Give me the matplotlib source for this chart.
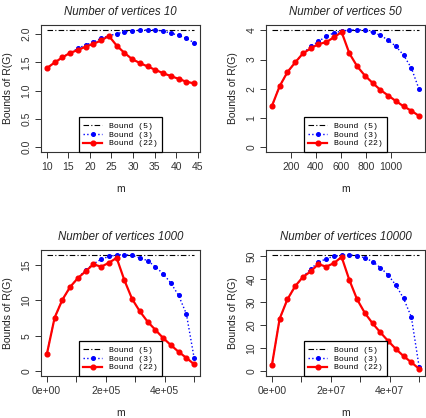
import matplotlib
matplotlib.use("Agg")
import matplotlib.pyplot as plt

plt.rcParams['font.family'] = ['Liberation Sans', 'DejaVu Sans']

# panel titles
titles = ["Number of vertices 10", "Number of vertices 50",
          "Number of vertices 1000", "Number of vertices 10000"]

# m values
m_10 = [10.0, 11.8, 13.6, 15.4, 17.2, 19.0, 20.8, 22.6, 24.4, 26.2,
        28.0, 29.8, 31.6, 33.4, 35.2, 37.0, 38.8, 40.6, 42.4, 44.2]
m_50 = [49, 111, 173, 235, 297, 359, 421, 482, 544, 606,
        668, 730, 792, 854, 916, 978, 1040, 1101, 1163, 1225]
m_1000 = [999, 27236, 53473, 79710, 105947, 132184, 158421, 184658, 210895, 237132,
          263368, 289605, 315842, 342079, 368316, 394553, 420790, 447027, 473264, 499500]
m_10000 = [9999, 2640262, 5270525, 7900788, 10531051, 13161314, 15791577, 18421840,
           21052103, 23682366, 26312633, 28942896, 31573159, 34203422, 36833685,
           39463948, 42094211, 44724474, 47354737, 49995000]

# Bound (5): constant line
b5_10, b5_50, b5_1000, b5_10000 = 2.08, 4.02, 16.45, 50.6

# Bound (3)
b3_10 = [1.40, 1.50, 1.59, 1.67, 1.75, 1.81, 1.86, 1.93, 1.97, 2.01,
         2.04, 2.06, 2.07, 2.075, 2.075, 2.055, 2.02, 1.98, 1.925, 1.85]
b3_50 = [1.41, 2.09, 2.57, 2.90, 3.21, 3.45, 3.62, 3.79, 3.91, 3.97,
         4.01, 4.02, 4.00, 3.93, 3.83, 3.66, 3.45, 3.15, 2.71, 1.98]
b3_1000 = [2.45, 7.57, 10.1, 11.9, 13.15, 14.3, 15.15, 15.8, 16.2, 16.4,
           16.45, 16.35, 16.0, 15.6, 14.75, 13.75, 12.45, 10.7, 8.1, 1.9]
b3_10000 = [2.6, 22.8, 31.2, 36.9, 40.9, 44.4, 47.3, 48.8, 49.9, 50.3,
            50.5, 50.2, 49.2, 47.6, 45.0, 41.8, 37.4, 31.6, 23.6, 2.0]

# Bound (22)
b22_10 = [1.40, 1.50, 1.59, 1.67, 1.72, 1.78, 1.83, 1.89, 1.97, 1.80,
          1.67, 1.56, 1.49, 1.43, 1.37, 1.31, 1.26, 1.21, 1.16, 1.13]
b22_50 = [1.41, 2.09, 2.57, 2.90, 3.21, 3.38, 3.53, 3.59, 3.76, 3.94,
          3.21, 2.77, 2.45, 2.20, 1.96, 1.77, 1.58, 1.40, 1.25, 1.07]
b22_1000 = [2.45, 7.57, 10.1, 11.9, 13.15, 14.1, 15.1, 14.75, 15.3, 16.0,
            12.85, 10.2, 8.45, 7.0, 5.85, 4.7, 3.7, 2.75, 1.9, 1.0]
b22_10000 = [2.6, 22.8, 31.2, 36.9, 40.9, 43.3, 46.5, 45.4, 46.9, 49.6,
             39.6, 31.2, 25.3, 20.8, 16.9, 13.2, 9.7, 6.6, 3.9, 1.1]

# axis ticks
xt_10 = [10, 15, 20, 25, 30, 35, 40, 45]
xl_10 = ["10", "15", "20", "25", "30", "35", "40", "45"]
xt_50 = [200, 400, 600, 800, 1000]
xl_50 = ["200", "400", "600", "800", "1000"]
xt_1000 = [0, 1e5, 2e5, 3e5, 4e5, 5e5]
xl_1000 = ["0e+00", "", "2e+05", "", "4e+05", ""]
xt_10000 = [0, 1e7, 2e7, 3e7, 4e7, 5e7]
xl_10000 = ["0e+00", "", "2e+07", "", "4e+07", ""]
yt_10 = [0.0, 0.5, 1.0, 1.5, 2.0]
yl_10 = ["0.0", "0.5", "1.0", "1.5", "2.0"]
yt_50 = [0, 1, 2, 3, 4]
yt_1000 = [0, 5, 10, 15]
yt_10000 = [0, 10, 20, 30, 40, 50]

panels = [
    (m_10, b5_10, b3_10, b22_10, xt_10, xl_10, yt_10, yl_10),
    (m_50, b5_50, b3_50, b22_50, xt_50, xl_50, yt_50, [str(v) for v in yt_50]),
    (m_1000, b5_1000, b3_1000, b22_1000, xt_1000, xl_1000, yt_1000, [str(v) for v in yt_1000]),
    (m_10000, b5_10000, b3_10000, b22_10000, xt_10000, xl_10000, yt_10000, [str(v) for v in yt_10000]),
]

W, H = 426, 418
boxes = [(41, 25, 200, 152), (266, 25, 425, 152),
         (41, 250, 200, 376), (266, 250, 425, 376)]

fig = plt.figure(figsize=(W / 100, H / 100), dpi=100)

for i, (m, b5, b3, b22, xt, xl, yt, yl) in enumerate(panels):
    l, t, r, b = boxes[i]
    ax = fig.add_axes([l / W, 1 - b / H, (r - l) / W, (b - t) / H])
    ax.plot([m[0], m[-1]], [b5, b5], color='black', lw=0.8,
            linestyle=(0, (5, 2, 1, 2)), label="Bound (5)")
    ax.plot(m, b3, color='blue', lw=1.0, linestyle=':', marker='o',
            markersize=2.6, label="Bound (3)")
    ax.plot(m, b22, color='red', lw=1.6, marker='o', markersize=3.4,
            label="Bound (22)")
    # R style 4% padding, y starting at 0
    x0, x1 = m[0], m[-1]
    dx = (x1 - x0) * 0.04
    ax.set_xlim(x0 - dx, x1 + dx)
    ymax = max(max(b3), max(b22), b5)
    dy = ymax * 0.04
    ax.set_ylim(-dy, ymax + dy)
    ax.set_xticks(xt)
    ax.set_xticklabels(xl)
    ax.set_yticks(yt)
    ax.set_yticklabels(yl, rotation=90, va='center')
    ax.tick_params(direction='out', length=4, width=0.7, labelsize=7.5, pad=3,
                   colors='#333333')
    for sp in ax.spines.values():
        sp.set_linewidth(0.8)
        sp.set_color('#333333')
    ax.set_title(titles[i], fontsize=8.3, style='italic', pad=7, color='#222222')
    ax.set_xlabel("m", fontsize=7.5, labelpad=9, color='#222222')
    ax.set_ylabel("Bounds of R(G)", fontsize=7.5, labelpad=6, color='#222222')
    leg = ax.legend(loc='lower center', borderaxespad=0, fancybox=False,
                    prop={'family': 'Liberation Mono', 'size': 5.9},
                    labelspacing=0.15, borderpad=0.55, handlelength=2.3,
                    numpoints=1, framealpha=1)
    leg.get_frame().set_edgecolor('black')
    leg.get_frame().set_linewidth(0.9)

fig.savefig("out.png", dpi=100)
